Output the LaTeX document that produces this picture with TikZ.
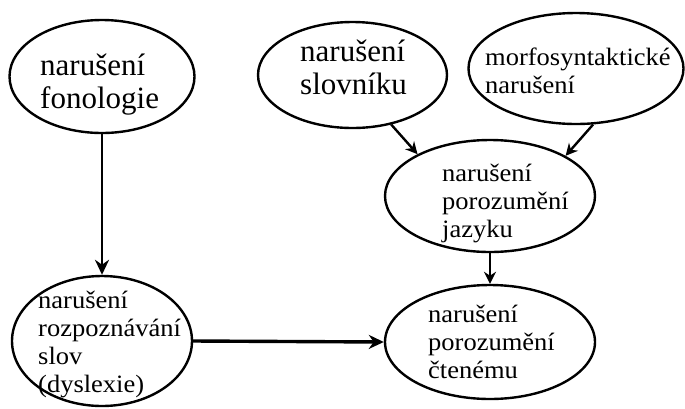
\documentclass[tikz,border=0pt]{standalone}
\usepackage{fontspec}
\setmainfont{Liberation Serif}
\newfontfamily\widerserif[FakeStretch=1.06]{Liberation Serif}
\usetikzlibrary{shapes.geometric,arrows.meta}
% multi-line label whose baseline is that of its first line
\newcommand\blines[1]{\begin{tabular}[t]{@{}l@{}}#1\end{tabular}}
\begin{document}
\begin{tikzpicture}[x=1pt,y=-1pt,
  bubble/.style={draw, ellipse, line width=2.4pt, inner sep=0pt},
  bigtxt/.style={anchor=base west, inner sep=0pt, font=\fontsize{31}{33.5}\selectfont},
  smalltxt/.style={anchor=base west, inner sep=0pt, font=\widerserif\fontsize{25}{28.3}\selectfont},
  heavy/.style={-{Stealth[length=15pt,width=14pt]}, line width=2.8pt},
  light/.style={-{Stealth[length=12pt,width=12pt]}, line width=2.4pt}]
\useasboundingbox (0,0) rectangle (685,408);

% bubbles
\node[bubble, minimum width=185pt, minimum height=113pt] (fon)  at (102,76.5) {};
\node[bubble, minimum width=189pt, minimum height=106pt] (slov) at (352.5,75) {};
\node[bubble, minimum width=215pt, minimum height=111pt] (morf) at (576,68.5) {};
\node[bubble, minimum width=210pt, minimum height=112pt] (jaz)  at (490,196) {};
\node[bubble, minimum width=210pt, minimum height=114pt] (cten) at (490,342) {};
\node[bubble, minimum width=180pt, minimum height=130pt] (dys)  at (102,341) {};

% labels
\node[bigtxt] (tfon)  at (40,75)  {\blines{narušení\\fonologie}};
\node[bigtxt] (tslov) at (300,61) {\blines{narušení\\slovníku}};
\node[smalltxt] (tmorf) at (485,65)  {\blines{morfosyntaktické\\narušení}};
\node[smalltxt] (tjaz)  at (442,181) {\blines{narušení\\porozumění\\jazyku}};
\node[smalltxt] (tcten) at (428,322) {\blines{narušení\\porozumění\\čtenému}};
\node[smalltxt] (tdys)  at (38,308)  {\blines{narušení\\rozpoznávání\\slov\\(dyslexie)}};

% connectors
\draw[heavy] (fon.south) -- (dys.north);
\draw[heavy, line width=3.4pt] (dys.east) -- (cten.west);
\draw[light] (slov.-52) -- (jaz.150);
\draw[light] (morf.-73) -- (jaz.28);
\draw[light] (jaz.south) -- (cten.north);
\end{tikzpicture}
\end{document}
